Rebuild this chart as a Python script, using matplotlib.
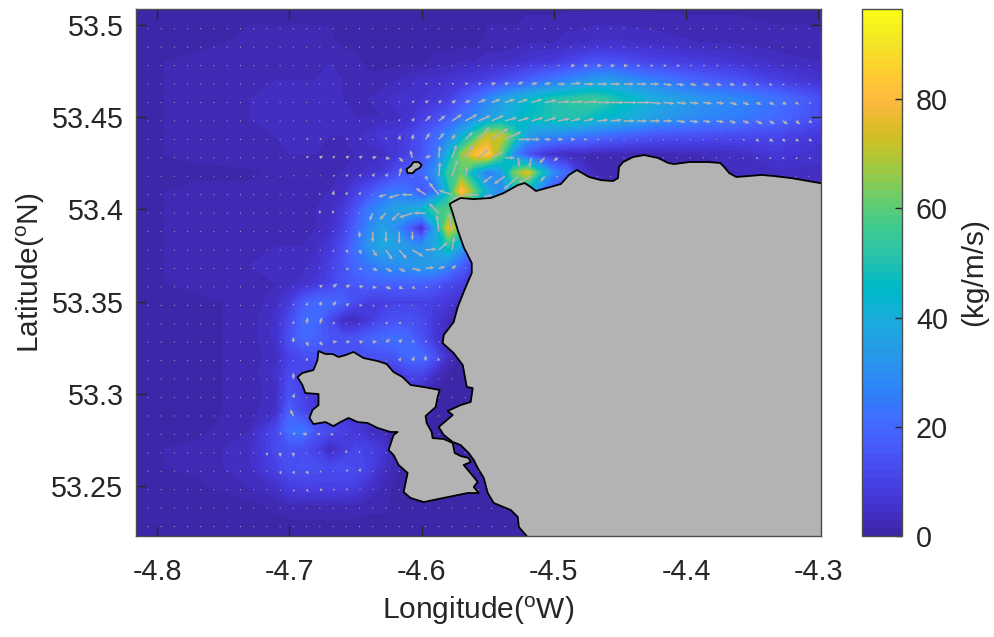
import numpy as np
import matplotlib
matplotlib.use('Agg')
import matplotlib.pyplot as plt
from matplotlib.colors import ListedColormap, Normalize
from matplotlib.cm import ScalarMappable
from matplotlib.patches import Polygon

plt.rcParams['font.family'] = ['Liberation Sans', 'DejaVu Sans']
plt.rcParams['mathtext.default'] = 'regular'
plt.rcParams['axes.unicode_minus'] = False

# parula, 64 steps
parula = [
[.2422,.1504,.6603],[.2504,.1650,.7076],[.2578,.1818,.7511],[.2647,.1978,.7952],[.2706,.2147,.8364],[.2751,.2342,.8710],
[.2783,.2559,.8991],[.2803,.2782,.9221],[.2813,.3006,.9414],[.2810,.3228,.9579],[.2795,.3447,.9717],[.2760,.3667,.9829],
[.2699,.3892,.9906],[.2602,.4123,.9952],[.2440,.4358,.9988],[.2206,.4603,.9973],[.1963,.4847,.9892],[.1834,.5074,.9798],
[.1786,.5289,.9682],[.1764,.5499,.9520],[.1687,.5703,.9359],[.1540,.5902,.9218],[.1460,.6091,.9079],[.1380,.6276,.8973],
[.1248,.6459,.8883],[.1113,.6635,.8763],[.0952,.6798,.8598],[.0689,.6948,.8394],[.0297,.7082,.8163],[.0036,.7203,.7917],
[.0067,.7312,.7660],[.0433,.7411,.7394],[.0964,.7500,.7120],[.1408,.7584,.6842],[.1717,.7670,.6554],[.1938,.7758,.6251],
[.2161,.7843,.5923],[.2470,.7918,.5567],[.2906,.7973,.5188],[.3406,.8008,.4789],[.3909,.8029,.4354],[.4456,.8024,.3909],
[.5044,.7993,.3480],[.5616,.7942,.3045],[.6174,.7876,.2612],[.6720,.7793,.2227],[.7242,.7698,.1910],[.7738,.7598,.1646],
[.8203,.7498,.1535],[.8634,.7406,.1596],[.9035,.7330,.1774],[.9393,.7288,.2100],[.9728,.7298,.2394],[.9956,.7434,.2371],
[.9970,.7659,.2199],[.9952,.7893,.2028],[.9892,.8136,.1885],[.9786,.8386,.1766],[.9676,.8639,.1643],[.9610,.8890,.1537],
[.9597,.9135,.1423],[.9628,.9373,.1265],[.9691,.9606,.1064],[.9769,.9839,.0805]]

# flux field (kg/m/s)
field_lon = [-4.82,-4.77,-4.73,-4.71,-4.70,-4.69,-4.68,-4.67,-4.66,-4.65,-4.64,-4.63,-4.62,-4.61,
             -4.60,-4.59,-4.58,-4.57,-4.56,-4.55,-4.54,-4.53,-4.52,-4.51,-4.50,-4.49,-4.48,-4.47,-4.46,-4.45,
             -4.42,-4.39,-4.36,-4.33,-4.30,-4.28]
field_lat = [53.51,53.49,53.48,53.47,53.46,53.45,53.44,53.43,53.42,53.41,53.40,53.39,53.38,53.37,53.36,
             53.35,53.34,53.33,53.32,53.31,53.30,53.29,53.28,53.27,53.26,53.25,53.24,53.23,53.22]
field = [
[1,1,1,1, 1,1,1,1,1,1,1,1,1,1, 1,1,1,1,1,1,1,1,1,1, 1,1,1,1,1,1, 1,1,1,1,1,1],
[1,1,2,2, 2,2,2,2,1,1,1,1,1,1, 1,1,1,1,1,2,2,2,3,3, 3,4,4,5,5,5, 4,3,3,2,2,1],
[1,2,3,3, 3,3,3,3,3,2,1,1,1,1, 1,2,2,3,3,4,4,5,6,7, 8,10,12,14,14,13, 10,8,6,4,3,2],
[1,2,3,3, 3,3,3,4,3,2,2,2,3,4, 5,5,6,7,8,10,12,15,18,21, 24,27,30,33,34,32, 24,18,14,9,6,4],
[1,2,3,4, 4,4,4,4,3,3,3,4,5,5, 6,7,9,14,20,27,34,39,43,47, 50,52,54,55,52,48, 38,32,28,22,14,10],
[1,2,3,4, 4,4,4,4,4,3,3,3,4,5, 9,12,16,22,28,34,38,42,46,48, 50,50,50,46,44,42, 34,28,25,20,13,9],
[1,2,3,3, 4,4,4,3,3,4,5,7,7,10, 14,20,28,40,55,72,72,55,34,30, 28,26,24,22,20,18, 14,13,12,11,7,5],
[1,2,3,3, 3,3,3,3,3,3,4,4,7,10, 14,22,40,65,80,85,60,28,14,7, 4,3,3,2,2,2, 2,3,4,7,5,4],
[1,1,1,2, 2,2,2,2,3,4,5,7,12,15, 20,30,55,60,40,24,32,62,75,50, 28,20,7,3,2,2, 2,2,3,4,4,4],
[1,2,2,2, 3,3,3,3,4,9,14,20,24,22, 14,22,45,82,60,38,28,45,40,25, 12,7,4,4,4,4, 4,4,4,4,4,4],
[1,2,2,2, 3,3,3,4,7,14,24,30,36,38, 42,55,58,48,40,30,20,15,10,7, 4,4,4,4,4,4, 4,4,4,4,4,4],
[1,2,2,3, 3,3,3,4,9,18,28,36,30,18, 3,35,75,60,40,30,20,15,10,7, 4,4,4,4,4,4, 4,4,4,4,4,4],
[1,2,2,3, 3,3,4,7,12,22,32,38,36,32, 30,38,50,35,20,15,10,7,4,4, 4,4,4,4,4,4, 4,4,4,4,4,4],
[1,2,3,4, 4,4,5,9,14,20,24,28,30,32, 34,34,28,18,10,7,4,4,4,4, 4,4,4,4,4,4, 4,4,4,4,4,4],
[1,2,2,3, 4,5,7,10,14,16,18,18,18,18, 18,16,12,10,4,4,4,4,4,4, 4,4,4,4,4,4, 4,4,4,4,4,4],
[1,1,2,4, 8,16,20,20,18,12,9,9,10,10, 10,9,7,4,3,3,3,3,3,3, 3,3,3,3,3,3, 3,3,3,3,3,3],
[1,1,2,5, 12,20,20,12,4,3,7,12,14,14, 12,7,3,2,2,2,2,2,2,2, 2,2,2,2,2,2, 2,2,2,2,2,2],
[1,1,2,5, 14,20,18,15,14,15,18,20,22,20, 14,7,2,1,1,1,1,1,1,1, 1,1,1,1,1,1, 1,1,1,1,1,1],
[1,1,2,4, 10,12,14,14,14,14,14,14,15,20, 20,14,4,1,1,1,1,1,1,1, 1,1,1,1,1,1, 1,1,1,1,1,1],
[1,1,2,5, 12,10,7,7,7,7,7,7,7,10, 10,4,1,1,1,1,1,1,1,1, 1,1,1,1,1,1, 1,1,1,1,1,1],
[1,1,2,4, 14,10,7,7,7,7,7,7,7,7, 3,1,1,1,1,1,1,1,1,1, 1,1,1,1,1,1, 1,1,1,1,1,1],
[1,1,2,5, 18,12,7,7,7,7,7,7,7,7, 3,1,1,1,1,1,1,1,1,1, 1,1,1,1,1,1, 1,1,1,1,1,1],
[1,1,3,12, 22,24,15,12,10,7,4,3,2,2, 1,1,1,1,1,1,1,1,1,1, 1,1,1,1,1,1, 1,1,1,1,1,1],
[1,2,4,12, 14,13,10,3,7,11,10,7,2,1, 1,1,1,1,1,1,1,1,1,1, 1,1,1,1,1,1, 1,1,1,1,1,1],
[1,2,4,10, 13,14,13,12,13,12,10,5,2,1, 1,1,1,1,1,1,1,1,1,1, 1,1,1,1,1,1, 1,1,1,1,1,1],
[1,1,3,5, 9,10,10,10,10,9,5,3,1,1, 1,1,1,1,1,1,1,1,1,1, 1,1,1,1,1,1, 1,1,1,1,1,1],
[1,1,1,2, 3,3,3,3,3,3,2,2,1,1, 1,1,1,1,1,1,1,1,1,1, 1,1,1,1,1,1, 1,1,1,1,1,1],
[1,1,1,1, 1,1,1,1,1,1,1,1,1,1, 1,1,1,1,1,1,1,1,1,1, 1,1,1,1,1,1, 1,1,1,1,1,1],
[1,1,1,1, 1,1,1,1,1,1,1,1,1,1, 1,1,1,1,1,1,1,1,1,1, 1,1,1,1,1,1, 1,1,1,1,1,1],
]

# coast lines, lon/lat
coast_lon = [-4.29,-4.3076,-4.3205,-4.3333,-4.3432,-4.3530,-4.3621,-4.3674,-4.3712,-4.3742,-4.3833,-4.3977,-4.4091,-4.4136,-4.4212,-4.4318,-4.4402,-4.4477,-4.4508,-4.4515,-4.4553,-4.4644,-4.4735,-4.4773,-4.4826,-4.4886,-4.4947,-4.5000,-4.5136,-4.5174,-4.5220,-4.5273,-4.5379,-4.5477,-4.5606,-4.5705,-4.5765,-4.5788,-4.5765,-4.5727,-4.5682,-4.5621,-4.5621,-4.5667,-4.5727,-4.5758,-4.5833,-4.5841,-4.5758,-4.5689,-4.5659,-4.5614,-4.5629,-4.5705,-4.5803,-4.5765,-4.5871,-4.5833,-4.5765,-4.5705,-4.5644,-4.5606,-4.5576,-4.5530,-4.5500,-4.5455,-4.5326,-4.5273,-4.5265,-4.5212,-4.515,-4.29]
coast_lat = [53.4132,53.4154,53.4170,53.4181,53.4187,53.4181,53.4176,53.4197,53.4230,53.4252,53.4257,53.4257,53.4246,53.4252,53.4279,53.4295,53.4284,53.4257,53.4230,53.4170,53.4154,53.4159,53.4176,53.4192,53.4214,53.4187,53.4138,53.4127,53.4100,53.4121,53.4143,53.4132,53.4089,53.4062,53.4056,53.4062,53.4040,53.4029,53.3980,53.3888,53.3796,53.3709,53.3655,53.3579,53.3471,53.3389,53.3319,53.3275,53.3221,53.3156,53.3037,53.3031,53.2956,53.2939,53.2907,53.2885,53.2820,53.2777,53.2739,53.2722,53.2679,53.2641,53.2598,53.2543,53.2462,53.2408,53.2370,53.2332,53.2278,53.2234,53.218,53.218]
island_lon = [-4.6780,-4.6727,-4.6674,-4.6629,-4.6576,-4.6515,-4.6439,-4.6333,-4.6265,-4.6212,-4.6144,-4.6083,-4.5985,-4.5864,-4.5879,-4.5894,-4.5970,-4.5962,-4.5924,-4.5917,-4.5833,-4.5765,-4.5750,-4.5705,-4.5644,-4.5629,-4.5682,-4.5606,-4.5576,-4.5606,-4.5568,-4.5652,-4.5803,-4.5985,-4.6083,-4.6136,-4.6106,-4.6174,-4.6212,-4.6250,-4.6212,-4.6182,-4.6235,-4.6333,-4.6409,-4.6485,-4.6553,-4.6614,-4.6667,-4.6727,-4.6818,-4.6848,-4.6826,-4.6780,-4.6780,-4.6879,-4.6902,-4.6939,-4.6902,-4.6818,-4.6788]
island_lat = [53.3232,53.3216,53.3216,53.3200,53.3210,53.3227,53.3194,53.3178,53.3162,53.3118,53.3091,53.3048,53.3037,53.3021,53.2983,53.2928,53.2880,53.2842,53.2793,53.2760,53.2755,53.2733,53.2679,53.2663,53.2652,53.2630,53.2614,53.2549,53.2522,53.2495,53.2462,53.2462,53.2440,53.2413,53.2435,53.2467,53.2571,53.2614,53.2668,53.2695,53.2777,53.2793,53.2793,53.2815,53.2842,53.2847,53.2869,53.2847,53.2825,53.2847,53.2836,53.2869,53.2912,53.2939,53.2999,53.3004,53.3048,53.3091,53.3113,53.3129,53.3183]
skerry_lon = [-4.6061,-4.6023,-4.6000,-4.6015,-4.6045,-4.6068,-4.6106,-4.6114,-4.6083]
skerry_lat = [53.4257,53.4257,53.4241,53.4225,53.4214,53.4197,53.4197,53.4219,53.4235]

# current arrows: 51 columns from -4.807 by 0.01, 28 rows from 53.498 by -0.01
arrow_lon0 = -4.807
arrow_lat0 = 53.498
# north part: rows 2-14, columns 11-50
north_u = [
[0,0,0,0,0,0,0,0,0,0, 0,0,0,0,0,0,0,0,0,0, 2,4,4,4,4,4,3,3,3,3, 2,2,2,1,1,1,1,0,0,0],
[0,0,0,0,0,0,0,0,1,1, 2,2,2,3,3,4,4,5,6,6, 7,9,9,9,9,9,9,8,8,7, 6,6,5,5,4,3,3,2,1,1],
[0,0,0,0,0,0,0,1,1,2, 3,3,4,5,7,8,9,9,10,11, 11,11,12,12,12,12,12,10,10,9, 8,8,7,7,6,5,5,4,3,2],
[0,0,0,0,0,0,0,0,1,2, 5,6,9,11,11,11,11,10,11,11, 11,9,9,10,10,10,9,9,8,8, 8,7,7,6,6,6,5,5,4,3],
[1,2,2,2,2,2,0,1,1,1, 4,5,3,7,10,15,15,12,8,6, 5,4,3,2,1,1,0,0,0,0, 0,0,0,1,2,3,4,3,3,3],
[1,2,3,2,3,3,4,4,4,-2, 5,1,4,7,9,11,9,1,-2,-5, -4,-1,0,0,0,0,0,0,0,0, 0,0,0,0,1,2,2,2,2,2],
[1,1,1,2,2,2,2,2,2,0, 2,1,5,2,0,-8,-10,-13,-12,-4, -2,0,0,0,0,0,0,0,0,0, 0,0,0,0,0,0,0,0,0,0],
[0,0,0,1,1,1,0,-7,-10,-10, -9,-9,-12,-12,-11,-8,0,0,0,0, 0,0,0,0,0,0,0,0,0,0, 0,0,0,0,0,0,0,0,0,0],
[0,0,0,0,0,0,-3,-6,-7,-12, -11,-9,0,0,0,0,0,0,0,0, 0,0,0,0,0,0,0,0,0,0, 0,0,0,0,0,0,0,0,0,0],
[0,0,0,0,0,0,0,0,0,0, 0,-2,-3,0,0,0,0,0,0,0, 0,0,0,0,0,0,0,0,0,0, 0,0,0,0,0,0,0,0,0,0],
[0,0,1,1,2,2,4,6,7,10, 10,8,2,1,0,0,0,0,0,0, 0,0,0,0,0,0,0,0,0,0, 0,0,0,0,0,0,0,0,0,0],
[0,0,0,1,3,3,5,6,6,8, 8,6,4,1,0,0,0,0,0,0, 0,0,0,0,0,0,0,0,0,0, 0,0,0,0,0,0,0,0,0,0],
[0,1,3,4,4,4,4,5,4,3, 2,2,1,0,0,0,0,0,0,0, 0,0,0,0,0,0,0,0,0,0, 0,0,0,0,0,0,0,0,0,0],
]
north_v = [
[0,0,0,0,0,0,0,0,0,0, 0,0,0,0,0,0,0,0,0,0, 0,0,0,0,0,0,0,0,0,0, 0,0,0,0,0,0,0,0,0,0],
[0,0,0,0,0,0,0,0,1,1, 1,1,1,1,1,1,1,2,1,1, 0,1,0,0,0,0,0,0,-1,-1, -1,-1,-1,-1,-1,-1,-1,-1,-1,0],
[0,0,0,0,0,0,0,1,1,2, 2,2,2,2,3,3,3,3,3,2, 1,1,1,0,0,0,0,-1,-1,-1, -1,-1,-1,-2,-2,-2,-2,-2,-2,-1],
[0,0,0,0,0,0,0,0,2,3, 5,5,6,6,5,5,3,3,3,3, 2,2,2,1,1,0,0,0,0,-1, -1,-1,-1,-2,-2,-3,-3,-3,-3,-2],
[1,1,1,1,1,1,0,2,4,5, 6,6,5,7,11,10,7,0,0,0, 0,0,0,0,0,0,0,0,0,0, 0,0,0,-1,-1,-2,-2,-2,-2,-2],
[1,2,2,2,2,2,1,-1,-4,7, 2,11,12,12,8,6,0,-8,-9,-5, -3,-1,0,0,0,0,0,0,0,0, 0,0,0,0,-1,-1,-1,-1,-1,-1],
[1,1,1,1,2,2,3,3,8,0, -4,13,15,9,-1,-6,-7,-12,-6,-5, -1,0,0,0,0,0,0,0,0,0, 0,0,0,0,0,0,0,0,0,0],
[0,1,2,4,3,3,1,-2,-3,0, 6,11,4,-4,0,-3,0,0,0,0, 0,0,0,0,0,0,0,0,0,0, 0,0,0,0,0,0,0,0,0,0],
[0,1,3,3,1,1,-7,-6,-7,-4, 0,9,13,0,0,0,0,0,0,0, 0,0,0,0,0,0,0,0,0,0, 0,0,0,0,0,0,0,0,0,0],
[0,0,0,1,0,-6,-10,-10,-11,-8, 0,15,17,0,0,0,0,0,0,0, 0,0,0,0,0,0,0,0,0,0, 0,0,0,0,0,0,0,0,0,0],
[0,0,-1,-2,-3,-4,-6,-9,-8,-6, 1,7,12,2,0,0,0,0,0,0, 0,0,0,0,0,0,0,0,0,0, 0,0,0,0,0,0,0,0,0,0],
[0,0,0,0,-1,-1,-2,-3,-3,-2, 1,2,3,1,0,0,0,0,0,0, 0,0,0,0,0,0,0,0,0,0, 0,0,0,0,0,0,0,0,0,0],
[0,1,2,3,2,1,-1,-2,-2,-2, -1,0,0,0,0,0,0,0,0,0, 0,0,0,0,0,0,0,0,0,0, 0,0,0,0,0,0,0,0,0,0],
]
# south part: rows 15-25, columns 9-24
south_u = [
[0,0,0,1,2,3,3,3,2,1,1,0,0,0,0,0],
[0,0,0,1,2,2,1,-1,1,2,2,1,0,0,1,0],
[0,1,0,2,3,4,4,4,4,4,3,2,1,1,0,0],
[0,0,1,1,0,0,0,0,0,1,2,2,0,-1,0,0],
[0,0,0,0,0,0,0,0,0,0,0,0,0,1,0,0],
[0,0,1,0,0,0,0,0,0,0,0,0,0,0,0,0],
[0,0,-3,1,0,0,0,0,0,0,0,0,0,0,0,0],
[0,1,2,-4,-3,-3,-1,0,0,0,0,0,0,0,0,0],
[0,0,0,-1,0,0,0,0,0,0,0,0,0,0,0,0],
[0,1,1,2,2,1,2,1,0,0,0,0,0,0,0,0],
[0,1,1,2,3,2,2,1,1,0,0,0,0,0,0,0],
]
south_v = [
[0,0,2,3,4,4,2,0,-1,-2,-1,-1,0,0,0,0],
[0,0,3,6,6,2,0,-1,1,2,2,1,0,0,1,0],
[0,1,5,-4,-3,1,1,1,1,3,3,2,2,1,0,0],
[0,0,0,3,0,0,0,0,0,1,3,4,5,3,0,0],
[0,0,6,0,0,0,0,0,0,0,0,0,0,0,0,0],
[0,0,4,0,0,0,0,0,0,0,0,0,0,0,0,0],
[0,0,6,0,0,0,0,0,0,0,0,0,0,0,0,0],
[1,2,2,1,1,0,0,0,0,0,0,0,0,0,0,0],
[-3,-4,-4,-1,1,0,3,2,0,0,0,0,0,0,0,0],
[-1,-3,-3,-3,-1,0,2,3,1,0,0,0,0,0,0,0],
[0,-1,-2,-2,0,0,1,1,1,0,0,0,0,0,0,0],
]

xtick_vals = [-4.8,-4.7,-4.6,-4.5,-4.4,-4.3]
xtick_labels = ['-4.8','-4.7','-4.6','-4.5','-4.4','-4.3']
ytick_vals = [53.25,53.3,53.35,53.4,53.45,53.5]
ytick_labels = ['53.25','53.3','53.35','53.4','53.45','53.5']
cbar_ticks = [0,20,40,60,80]
vmax = 96.5

cmap = ListedColormap(parula)
txt = '#262626'
land = '#b3b3b3'

fig = plt.figure(figsize=(9.95,6.37), dpi=100)
ax = fig.add_axes([136/995,(637-536)/637,685/995,527/637])
cax = fig.add_axes([862/995,(637-536)/637,40/995,527/637])

levels = np.linspace(0,vmax,65)
ax.contourf(field_lon,field_lat,np.array(field,dtype=float),levels=levels,cmap=cmap,zorder=1)

# arrows
arrow_u = np.zeros((28,51))
arrow_v = np.zeros((28,51))
arrow_u[2:15,11:51] = north_u
arrow_v[2:15,11:51] = north_v
arrow_u[15:26,9:25] = south_u
arrow_v[15:26,9:25] = south_v
lon_grid = arrow_lon0 + 0.01*np.arange(51)
lat_grid = arrow_lat0 - 0.01*np.arange(28)
ax.quiver(lon_grid,lat_grid,arrow_u,arrow_v,angles='uv',scale_units='dots',scale=0.9,units='dots',
          width=1.5,headwidth=2.6,headlength=3,headaxislength=2.7,minlength=0.8,color='#b4b4b4',zorder=2)

# land
for lons,lats in [(coast_lon,coast_lat),(island_lon,island_lat),(skerry_lon,skerry_lat)]:
    ax.add_patch(Polygon(np.column_stack([lons,lats]),closed=True,facecolor=land,edgecolor='k',
                         linewidth=1.3,joinstyle='round',zorder=3))

ax.set_xlim(-4.816,-4.298)
ax.set_ylim(53.2229,53.5087)
ax.set_xticks(xtick_vals,labels=xtick_labels)
ax.set_yticks(ytick_vals,labels=ytick_labels)
ax.tick_params(direction='in',length=7,width=1,color=txt,labelcolor=txt,labelsize=20.7,top=True,right=True,pad=9)
ax.tick_params(axis='x',pad=16)
ax.set_axisbelow(False)
for s in ax.spines.values():
    s.set_color('#4d4d4d')
    s.set_linewidth(1)
    s.set_zorder(6)
ax.set_xlabel('Longitude($^{o}$W)',fontsize=21.5,color=txt,labelpad=6)
ax.set_ylabel('Latitude($^{o}$N)',fontsize=21.5,color=txt,labelpad=3)

cb = fig.colorbar(ScalarMappable(norm=Normalize(0,vmax),cmap=cmap),cax=cax)
cb.set_ticks(cbar_ticks)
cb.ax.tick_params(direction='in',length=5,width=1,color=txt,labelcolor=txt,labelsize=20.7,pad=10)
cb.outline.set_edgecolor('#4d4d4d')
cb.outline.set_linewidth(1)
cb.set_label('(kg/m/s)',fontsize=21.5,color=txt,labelpad=9)

fig.savefig('out.png',dpi=100)
